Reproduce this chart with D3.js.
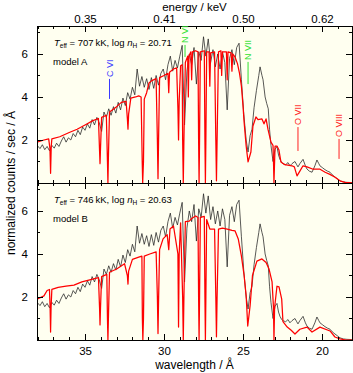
<!DOCTYPE html>
<html>
<head>
<meta charset="utf-8">
<script src="https://cdn.jsdelivr.net/npm/d3@7"></script>
<style>
  body { margin: 0; background: #fff; }
  text { font-family: "Liberation Sans", Arial, Helvetica, sans-serif; }
</style>
</head>
<body>
<script>
// Observed spectrum, same data in both panels: [wavelength (A), counts]
const observed = [
  [38.00, 1.72], [37.85, 1.60], [37.70, 1.78], [37.55, 1.55], [37.40, 1.70], [37.25, 1.50],
  [37.10, 1.75], [36.95, 1.62], [36.80, 1.85], [36.65, 1.70], [36.50, 1.95], [36.35, 2.15],
  [36.20, 1.90], [36.05, 2.10], [35.90, 2.00], [35.75, 2.30], [35.60, 2.15], [35.45, 2.45],
  [35.30, 2.25], [35.15, 2.60], [35.00, 2.45], [34.85, 2.75], [34.70, 2.55], [34.55, 2.95],
  [34.40, 2.70], [34.25, 3.05], [34.10, 2.80], [33.95, 2.40], [33.80, 3.30], [33.65, 3.05],
  [33.50, 3.45], [33.35, 3.15], [33.20, 3.55], [33.05, 3.25], [32.90, 3.75], [32.75, 3.40],
  [32.60, 3.95], [32.45, 3.60], [32.30, 4.20], [32.15, 3.90], [32.00, 4.45], [31.85, 4.10],
  [31.70, 5.30], [31.55, 4.50], [31.40, 4.95], [31.25, 4.45], [31.10, 4.85], [30.95, 4.35],
  [30.80, 4.90], [30.65, 4.40], [30.50, 5.00], [30.35, 4.55], [30.20, 5.10], [30.05, 5.30],
  [29.90, 4.80], [29.75, 5.50], [29.60, 5.90], [29.45, 5.20], [29.30, 5.70], [29.15, 5.35],
  [29.00, 5.90], [28.85, 6.40], [28.70, 2.70], [28.55, 5.20], [28.40, 6.00], [28.25, 5.50],
  [28.10, 6.30], [27.95, 4.60], [27.80, 6.10], [27.65, 5.70], [27.50, 6.80], [27.35, 5.90],
  [27.20, 6.70], [27.05, 5.60], [26.90, 6.20], [26.75, 5.40], [26.60, 6.00], [26.45, 5.30],
  [26.30, 6.10], [26.15, 5.60], [26.00, 3.40], [25.85, 5.80], [25.70, 6.20], [25.55, 5.50],
  [25.40, 6.30], [25.25, 6.50], [25.10, 4.80], [24.95, 3.20], [24.80, 2.00], [24.68, 1.44],
  [24.55, 2.20], [24.43, 2.50], [24.30, 3.50], [24.15, 4.30], [24.00, 5.00], [23.92, 5.40],
  [23.80, 5.00], [23.73, 4.80], [23.60, 4.00], [23.50, 3.70], [23.40, 3.45], [23.32, 2.50],
  [23.23, 1.75], [23.10, 1.00], [22.97, 1.58], [22.85, 1.70], [22.75, 1.30], [22.66, 1.10],
  [22.55, 0.95], [22.47, 0.90], [22.30, 0.85], [22.15, 0.95], [22.03, 0.80], [21.90, 0.90],
  [21.71, 1.00], [21.60, 0.85], [21.52, 0.75], [21.40, 0.90], [21.20, 1.10], [21.05, 0.80],
  [20.95, 0.65], [20.80, 0.55], [20.63, 0.50], [20.45, 0.80], [20.32, 1.07], [20.20, 0.90],
  [20.13, 0.80], [19.95, 0.70], [19.81, 0.62], [19.65, 0.55], [19.49, 0.50], [19.35, 0.38],
  [19.18, 0.28], [19.00, 0.18], [18.86, 0.10], [18.65, 0.05], [18.42, 0.03], [18.10, 0.02]
];

// Model A (top panel)
const modelA = [
  [38.04, 1.90], [37.60, 2.00], [37.30, 2.05], [37.22, 1.60], [37.18, 0.45], [37.14, 1.70],
  [37.10, 2.05], [36.60, 2.15], [36.00, 2.35], [35.50, 2.50], [35.00, 2.70], [34.50, 2.90],
  [34.15, 3.00], [34.08, 1.50], [34.05, 0.90], [34.02, 1.60], [33.95, 3.05], [33.65, 3.15],
  [33.58, 1.00], [33.55, 0.00], [33.52, 1.20], [33.45, 3.30], [33.00, 3.55], [32.70, 3.75],
  [32.40, 3.80], [32.32, 3.00], [32.28, 2.50], [32.24, 3.20], [32.10, 3.95], [31.80, 4.00],
  [31.60, 4.05], [31.45, 4.00], [31.38, 1.00], [31.35, 0.00], [31.30, 1.00], [31.25, 3.90],
  [31.10, 4.20], [30.95, 4.65], [30.80, 4.75], [30.50, 4.85], [30.42, 2.00], [30.38, 0.20],
  [30.34, 2.20], [30.28, 4.90], [30.00, 5.00], [29.75, 5.10], [29.70, 4.20], [29.65, 5.15],
  [29.40, 5.30], [29.20, 5.35], [29.12, 3.50], [29.08, 2.00], [29.04, 3.80], [28.95, 5.45],
  [28.85, 5.50], [28.82, 2.00], [28.78, 0.00], [28.74, 2.00], [28.65, 5.60], [28.50, 5.90],
  [28.46, 4.00], [28.42, 5.90], [28.30, 6.10], [28.25, 4.80], [28.20, 6.10], [28.00, 6.15],
  [27.85, 6.10], [27.81, 2.00], [27.78, 0.00], [27.75, 2.00], [27.70, 6.10], [27.45, 6.15],
  [27.41, 2.00], [27.38, 0.00], [27.35, 2.00], [27.30, 6.10], [27.15, 6.10], [27.10, 4.50],
  [27.05, 6.05], [26.80, 6.10], [26.72, 2.00], [26.68, 0.10], [26.64, 2.00], [26.55, 6.10],
  [26.40, 6.15], [26.35, 5.00], [26.30, 6.10], [26.05, 6.10], [26.00, 4.80], [25.95, 6.10],
  [25.75, 6.05], [25.70, 5.20], [25.65, 6.00], [25.50, 5.85], [25.35, 5.55], [25.22, 5.10],
  [25.10, 4.50], [25.00, 3.60], [24.93, 2.84], [24.80, 1.72], [24.68, 0.98], [24.50, 1.44],
  [24.37, 2.65], [24.18, 3.07], [24.05, 2.95], [23.80, 2.98], [23.67, 2.75], [23.54, 2.98],
  [23.42, 2.50], [23.23, 1.90], [23.10, 1.75], [23.07, 1.00], [23.04, 0.00], [23.00, 1.00],
  [22.97, 1.72], [22.85, 1.72], [22.73, 1.55], [22.60, 0.98], [22.35, 0.85], [21.90, 0.80],
  [21.75, 0.75], [21.58, 0.33], [21.40, 0.55], [21.20, 0.80], [20.95, 0.75], [20.60, 0.65],
  [20.15, 0.65], [19.80, 0.50], [19.50, 0.40], [19.20, 0.28], [18.86, 0.10], [18.55, 0.03],
  [18.10, 0.00]
];

// Model B (bottom panel)
const modelB = [
  [38.04, 1.90], [37.60, 2.05], [37.40, 2.30], [37.25, 2.35], [37.21, 1.50], [37.18, 0.37],
  [37.15, 1.50], [37.10, 2.35], [36.70, 2.45], [36.20, 2.50], [35.70, 2.55], [35.20, 2.70],
  [34.70, 2.80], [34.15, 2.90], [34.08, 1.50], [34.05, 0.70], [34.02, 1.50], [33.95, 2.95],
  [33.62, 3.05], [33.58, 1.00], [33.55, 0.00], [33.52, 1.00], [33.45, 3.15], [33.00, 3.30],
  [32.50, 3.55], [32.32, 3.00], [32.28, 2.60], [32.24, 3.20], [32.00, 3.75], [31.60, 3.85],
  [31.40, 3.90], [31.37, 1.00], [31.34, 0.00], [31.30, 1.00], [31.25, 3.90], [30.90, 4.00],
  [30.50, 4.10], [30.42, 2.00], [30.38, 0.30], [30.34, 2.00], [30.28, 4.20], [30.06, 4.70],
  [29.80, 4.90], [29.70, 4.20], [29.62, 5.16], [29.40, 5.30], [29.12, 4.00], [29.08, 0.60],
  [29.04, 4.00], [28.95, 5.45], [28.82, 2.00], [28.78, 0.00], [28.74, 2.00], [28.65, 5.50],
  [28.40, 5.53], [28.25, 5.65], [28.00, 5.77], [27.85, 5.70], [27.81, 2.00], [27.78, 0.00],
  [27.75, 2.00], [27.70, 5.70], [27.45, 5.75], [27.41, 2.00], [27.38, 0.00], [27.35, 2.00],
  [27.30, 5.60], [27.10, 5.16], [26.80, 5.16], [26.72, 2.00], [26.68, 0.15], [26.64, 2.00],
  [26.55, 5.16], [26.30, 5.20], [26.00, 5.16], [25.70, 5.10], [25.50, 5.07], [25.30, 4.70],
  [25.10, 3.90], [24.93, 3.00], [24.80, 2.05], [24.70, 0.65], [24.55, 1.60], [24.40, 3.00],
  [24.12, 3.67], [23.80, 3.77], [23.54, 3.60], [23.35, 3.30], [23.16, 2.70], [23.07, 1.50],
  [23.04, 0.00], [23.00, 1.50], [22.85, 2.50], [22.72, 2.47], [22.55, 1.90], [22.47, 0.85],
  [22.20, 0.60], [21.95, 0.45], [21.71, 0.28], [21.40, 0.50], [20.95, 0.60], [20.63, 0.37],
  [20.13, 0.60], [19.49, 0.42], [19.18, 0.14], [18.86, 0.05], [18.50, 0.00], [18.10, 0.00]
];

// Axis ticks and labels
const waveTicks = [35, 30, 25, 20];
const waveMinor = [19, 21, 22, 23, 24, 26, 27, 28, 29, 31, 32, 33, 34, 36, 37, 38];
const energyLabels = ["0.35", "0.41", "0.50", "0.62"];
const countTicks = [2, 4, 6];
const countMinor = [1, 3, 5, 7];

// Panel annotations
const teffValues = ["707", "746"];
const lognHValues = ["20.71", "20.63"];
const modelNames = ["model A", "model B"];

// Ion line markers (top panel): wavelength, marker line top and bottom in counts
const ionNames = ["C VI", "N VI", "N VII", "O VII", "O VIII"];
const ionWave = [33.45, 28.67, 24.68, 21.52, 18.92];
const ionTop = [4.84, 6.42, 5.63, 2.60, 2.05];
const ionBottom = [3.91, 5.86, 4.60, 1.49, 1.12];
const ionColor = {"C VI": "#3a3aff", "N VI": "#2ee02e", "N VII": "#2ee02e", "O VII": "#ff2020", "O VIII": "#ff2020"};

// Layout
let width = 353, height = 373;
let left = 37, right = 352;
let panels = [
  {top: 26, bottom: 183, model: modelA},
  {top: 183, bottom: 340, model: modelB}
];

let svg = d3.select('body')
  .append('svg')
  .attr('width', width)
  .attr('height', height);

const xScale = d3.scaleLinear()
  .domain([38.04, 18.1])
  .range([left, right]);

panels.forEach(function(p, i) {
  const yScale = d3.scaleLinear()
    .domain([0, 7.3])
    .range([p.bottom, p.top]);

  // plot background
  svg.append('rect')
    .attr('x', left)
    .attr('y', p.top)
    .attr('width', right - left)
    .attr('height', p.bottom - p.top)
    .attr('fill', '#fffff0');

  svg.append('clipPath')
    .attr('id', 'clip' + i)
    .append('rect')
    .attr('x', left)
    .attr('y', p.top)
    .attr('width', right - left)
    .attr('height', p.bottom - p.top);

  const line = d3.line()
    .x(d => xScale(d[0]))
    .y(d => yScale(d[1]));

  let g = svg.append('g').attr('clip-path', 'url(#clip' + i + ')');

  g.append('path')
    .datum(observed)
    .attr('d', line)
    .attr('fill', 'none')
    .attr('stroke', '#222')
    .attr('stroke-width', 0.75);

  g.append('path')
    .datum(p.model)
    .attr('d', line)
    .attr('fill', 'none')
    .attr('stroke', '#ff0000')
    .attr('stroke-width', 1.25)
    .attr('stroke-linejoin', 'round');

  // axes with inward ticks
  function addAxis(axis, tx, ty) {
    let a = svg.append('g')
      .attr('transform', `translate(${tx},${ty})`)
      .call(axis);
    a.select('.domain').remove();
    a.selectAll('line').attr('stroke', '#000').attr('shape-rendering', 'crispEdges');
    a.selectAll('text')
      .attr('fill', '#000')
      .style('font-size', '11.5px');
    return a;
  }

  let topAxis = d3.axisTop(xScale).tickValues(waveTicks).tickSize(-6).tickPadding(3);
  if (i === 0) {
    topAxis.tickFormat((d, k) => energyLabels[k]);
  } else {
    topAxis.tickFormat('');
  }
  addAxis(topAxis, 0, p.top);
  addAxis(d3.axisTop(xScale).tickValues(waveMinor).tickSize(-3).tickFormat(''), 0, p.top);

  let bottomAxis = d3.axisBottom(xScale).tickValues(waveTicks).tickSize(-6).tickPadding(7);
  if (i === 1) {
    bottomAxis.tickFormat(d3.format('d'));
  } else {
    bottomAxis.tickFormat('');
  }
  addAxis(bottomAxis, 0, p.bottom);
  addAxis(d3.axisBottom(xScale).tickValues(waveMinor).tickSize(-3).tickFormat(''), 0, p.bottom);

  addAxis(d3.axisLeft(yScale).tickValues(countTicks).tickSize(-6).tickPadding(9), left, 0);
  addAxis(d3.axisLeft(yScale).tickValues(countMinor).tickSize(-3).tickFormat(''), left, 0);
  addAxis(d3.axisRight(yScale).tickValues(countTicks).tickSize(-6).tickFormat(''), right, 0);
  addAxis(d3.axisRight(yScale).tickValues(countMinor).tickSize(-3).tickFormat(''), right, 0);

  // frame
  svg.append('rect')
    .attr('x', left)
    .attr('y', p.top)
    .attr('width', right - left)
    .attr('height', p.bottom - p.top)
    .attr('fill', 'none')
    .attr('stroke', '#000')
    .attr('stroke-width', 1)
    .attr('shape-rendering', 'crispEdges');

  // parameter annotation
  let ann = svg.append('text')
    .attr('x', 54)
    .attr('y', p.top + 20)
    .style('font-size', '9.5px')
    .attr('fill', '#000');
  ann.append('tspan').style('font-style', 'italic').text('T');
  ann.append('tspan').attr('dy', 2).style('font-size', '6.5px').text('eff');
  ann.append('tspan').attr('dy', -2).text(' = ' + teffValues[i] + '\u2009kK, log ');
  ann.append('tspan').style('font-style', 'italic').text('n');
  ann.append('tspan').attr('dy', 2).style('font-size', '6.5px').text('H');
  ann.append('tspan').attr('dy', -2).text(' = ' + lognHValues[i]);

  svg.append('text')
    .attr('x', 53)
    .attr('y', p.top + 39)
    .style('font-size', '9.5px')
    .attr('fill', '#000')
    .text(modelNames[i]);

  // ion markers only in the top panel
  if (i === 0) {
    ionNames.forEach(function(name, k) {
      const xx = xScale(ionWave[k]);
      svg.append('line')
        .attr('x1', xx).attr('x2', xx)
        .attr('y1', yScale(ionTop[k]))
        .attr('y2', yScale(ionBottom[k]))
        .attr('stroke', ionColor[name])
        .attr('stroke-width', 1);
      svg.append('text')
        .attr('transform', `translate(${xx + 3},${yScale(ionTop[k]) - 2}) rotate(-90)`)
        .style('font-size', '9px')
        .attr('fill', ionColor[name])
        .text(name);
    });
  }
});

// axis titles
svg.append('text')
  .attr('x', (left + right) / 2)
  .attr('y', 10.5)
  .style('text-anchor', 'middle')
  .style('font-size', '11.5px')
  .text('energy / keV');

svg.append('text')
  .attr('x', (left + right) / 2)
  .attr('y', 369)
  .style('text-anchor', 'middle')
  .style('font-size', '12px')
  .text('wavelength / \u00c5');

svg.append('text')
  .attr('transform', `translate(15,${(26 + 340) / 2}) rotate(-90)`)
  .style('text-anchor', 'middle')
  .style('font-size', '12px')
  .text('normalized counts / sec / \u00c5');
</script>
</body>
</html>
